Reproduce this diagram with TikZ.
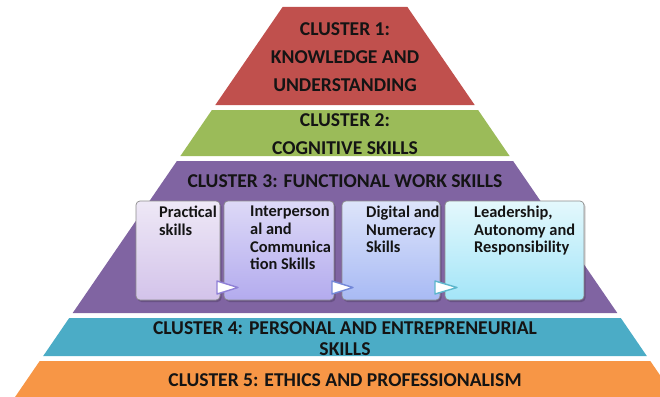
\documentclass[tikz,border=0pt]{standalone}
\usepackage{fontspec}
\setmainfont{Carlito}
\definecolor{cred}{HTML}{C0504D}
\definecolor{cgreen}{HTML}{9BBB59}
\definecolor{cpurple}{HTML}{8064A2}
\definecolor{cteal}{HTML}{4BACC6}
\definecolor{corange}{HTML}{F79646}
\definecolor{bxoneT}{HTML}{EEE8F6}
\definecolor{bxoneB}{HTML}{D3C3EA}
\definecolor{bxtwoT}{HTML}{DDD9F7}
\definecolor{bxtwoB}{HTML}{B3ABEE}
\definecolor{bxthreeT}{HTML}{DDE4FA}
\definecolor{bxthreeB}{HTML}{A8BAF4}
\definecolor{bxfourT}{HTML}{E4F8FC}
\definecolor{bxfourB}{HTML}{A3E5F8}
\definecolor{chone}{HTML}{8F80D6}
\definecolor{chtwo}{HTML}{7388D8}
\definecolor{chthree}{HTML}{5CB6CC}
\definecolor{txt}{HTML}{141414}
\begin{document}
\begin{tikzpicture}[x=1pt,y=-1pt,
  layertext/.style={font=\bfseries\fontsize{19.6}{21}\selectfont, text=txt, align=center, inner sep=0pt},
  boxtext/.style={font=\bfseries\fontsize{16.4}{17.6}\selectfont, text=txt, align=left, anchor=north west, inner sep=0pt},
  skillbox/.style={draw=black!45, line width=0.7pt, rounded corners=4pt},
  chevron/.style={fill=white, line width=1.4pt, line join=round}
]
\useasboundingbox (0,0) rectangle (660,396);
\clip (0,0) rectangle (660,396);
% pyramid layers
\fill[cred]    (282.6,7)   -- (407.4,7)   -- (474.7,105) -- (215.3,105) -- cycle;
\fill[cgreen]  (211.9,110) -- (478.1,110) -- (509.6,156) -- (180.4,156) -- cycle;
\fill[cpurple] (176.9,161) -- (513.1,161) -- (617.3,313) -- (72.7,313)  -- cycle;
\fill[cteal]   (69.2,318)  -- (620.8,318) -- (646.8,356) -- (43.2,356)  -- cycle;
\fill[corange] (39.7,361)  -- (650.3,361) -- (677,400)   -- (13,400)    -- cycle;
% layer texts
\node[layertext, font=\bfseries\fontsize{19.6}{28}\selectfont] (c1) at (345,57) {CLUSTER 1:\\KNOWLEDGE AND\\UNDERSTANDING};
\node[layertext, font=\bfseries\fontsize{19.6}{28}\selectfont] (c2) at (345,134) {CLUSTER 2:\\COGNITIVE SKILLS};
\node[layertext] (c3) at (345,181) {CLUSTER 3: FUNCTIONAL WORK SKILLS};
\node[layertext] (c4) at (345,339) {CLUSTER 4: PERSONAL AND ENTREPRENEURIAL\\SKILLS};
\node[layertext] (c5) at (345,380) {CLUSTER 5: ETHICS AND PROFESSIONALISM};
% shadows
\foreach \a/\b in {136/220,224/334,342/440,445/584}{
  \fill[black, opacity=0.18, rounded corners=4pt] (\a+1.5,202.5) rectangle (\b+1.5,302);
}
% skill boxes
\draw[skillbox, top color=bxoneT, bottom color=bxoneB] (136,201) rectangle (220,300);
\draw[skillbox, top color=bxtwoT, bottom color=bxtwoB] (224,201) rectangle (334,300);
\draw[skillbox, top color=bxthreeT, bottom color=bxthreeB] (342,201) rectangle (440,300);
\draw[skillbox, top color=bxfourT, bottom color=bxfourB] (445,201) rectangle (584,300);
% box texts
\node[boxtext] (s1) at (159,206) {Practical\\skills};
\node[boxtext] (s2) at (250,206) {Interperson\\al and\\Communica\\tion Skills};
\node[boxtext] (s3) at (366,206) {Digital and\\Numeracy\\Skills};
\node[boxtext] (s4) at (474,206) {Leadership,\\Autonomy and\\Responsibility};
% chevrons
\draw[chevron, draw=chone] (217,281) -- (238,287.5) -- (217,294) -- cycle;
\draw[chevron, draw=chtwo] (332,281) -- (353,287.5) -- (332,294) -- cycle;
\draw[chevron, draw=chthree] (435,281) -- (457,287.5) -- (435,294) -- cycle;
\end{tikzpicture}
\end{document}
